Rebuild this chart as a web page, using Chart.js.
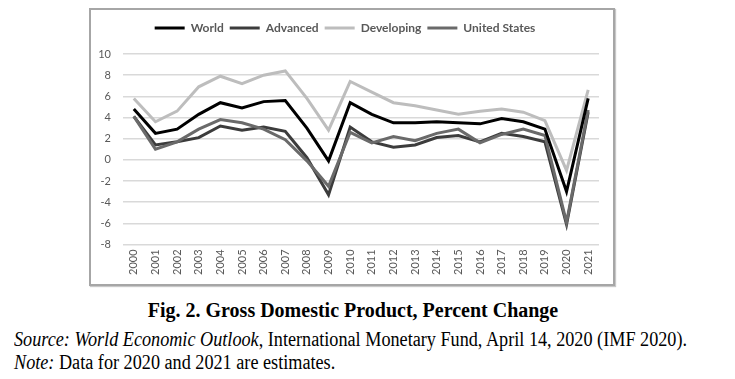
<!DOCTYPE html>
<html>
<head>
<meta charset="utf-8">
<script src="https://cdn.jsdelivr.net/npm/chart.js@4"></script>
<style>
  html, body { margin:0; padding:0; background:#fff; }
  body { width:735px; height:379px; position:relative; overflow:hidden; }
  #box { position:absolute; left:89px; top:8px; width:522px; height:274px; border:2px solid #a6a6a6; background:#fff; box-shadow:1px 1px 1px #c8c8c8; }
  #box canvas { display:block; }
  .cap { position:absolute; font-family:"Liberation Serif","Times New Roman",serif; color:#000; white-space:nowrap; line-height:1.15; }
  #title { left:0; width:706px; text-align:center; top:299px; font-weight:bold; font-size:20px; transform:scaleY(1.05); }
  #src { left:14px; top:329px; font-size:18.2px; transform:scaleY(1.1); transform-origin:0 50%; }
  #note { left:14px; top:352px; font-size:18.2px; transform:scaleY(1.1); transform-origin:0 50%; }
</style>
</head>
<body>
<div id="box"><canvas id="c" width="522" height="274"></canvas></div>
<div id="title" class="cap">Fig. 2. Gross Domestic Product, Percent Change</div>
<div id="src" class="cap"><i>Source: World Economic Outlook</i>, International Monetary Fund, April 14, 2020 (IMF 2020).</div>
<div id="note" class="cap"><i>Note:</i> Data for 2020 and 2021 are estimates.</div>
<script>
const years = ["2000","2001","2002","2003","2004","2005","2006","2007","2008","2009","2010","2011","2012","2013","2014","2015","2016","2017","2018","2019","2020","2021"];
const world      = [4.8, 2.5, 2.9, 4.3, 5.4, 4.9, 5.5, 5.6, 3.0, -0.1, 5.4, 4.3, 3.5, 3.5, 3.6, 3.5, 3.4, 3.9, 3.6, 2.9, -3.0, 5.8];
const advanced   = [4.1, 1.4, 1.7, 2.1, 3.2, 2.8, 3.1, 2.7, 0.2, -3.3, 3.1, 1.7, 1.2, 1.4, 2.1, 2.3, 1.7, 2.5, 2.2, 1.7, -6.1, 4.5];
const developing = [5.8, 3.6, 4.6, 6.9, 7.9, 7.2, 8.0, 8.4, 5.8, 2.8, 7.4, 6.4, 5.4, 5.1, 4.7, 4.3, 4.6, 4.8, 4.5, 3.7, -1.0, 6.6];
const unitedStates = [4.1, 1.0, 1.7, 2.9, 3.8, 3.5, 2.9, 1.9, -0.1, -2.5, 2.6, 1.6, 2.2, 1.8, 2.5, 2.9, 1.6, 2.4, 2.9, 2.3, -5.9, 4.7];
const yTicks = [-8, -6, -4, -2, 0, 2, 4, 6, 8, 10];

function ds(label, data, color, order) {
  return { label, data, borderColor: color, backgroundColor: color, borderWidth: 3,
           pointRadius: 0, tension: 0, fill: false, order };
}

const legendGap = {
  id: 'legendGap',
  beforeInit(chart) {
    const orig = chart.legend.fit;
    chart.legend.fit = function () { orig.call(this); this.height += 10; };
  }
};

new Chart(document.getElementById('c'), {
  type: 'line',
  data: {
    labels: years,
    datasets: [
      ds('World', world, '#000000', 1),
      ds('Advanced', advanced, '#3c3c3c', 3),
      ds('Developing', developing, '#bdbdbd', 4),
      ds('United States', unitedStates, '#6a6a6a', 2)
    ]
  },
  plugins: [legendGap],
  options: {
    responsive: false,
    animation: false,
    layout: { padding: { left: 0, right: 14, top: 6, bottom: 4 } },
    plugins: {
      tooltip: { enabled: false },
      legend: {
        position: 'top',
        labels: {
          boxWidth: 30, boxHeight: 3, padding: 6,
          color: '#595959',
          font: { family: 'Lato', size: 12, weight: 'bold' },
          sort: (a, b) => a.datasetIndex - b.datasetIndex,
          generateLabels: (chart) => Chart.defaults.plugins.legend.labels.generateLabels(chart).map(l => ({ ...l, lineWidth: 0 }))
        }
      }
    },
    scales: {
      x: {
        offset: true,
        grid: { display: false, drawTicks: false },
        border: { display: false },
        ticks: { minRotation: 90, maxRotation: 90, padding: 5, color: '#595959', font: { family: 'Lato', size: 11 } }
      },
      y: {
        min: -8, max: 10,
        afterBuildTicks: s => { s.ticks = yTicks.map(v => ({ value: v })); },
        afterFit: s => { s.width = 32; },
        grid: { color: '#d9d9d9', lineWidth: 1.5, drawTicks: false },
        border: { display: false },
        ticks: { padding: 12, color: '#595959', font: { family: 'Lato', size: 11 } }
      }
    }
  }
});
</script>
</body>
</html>
